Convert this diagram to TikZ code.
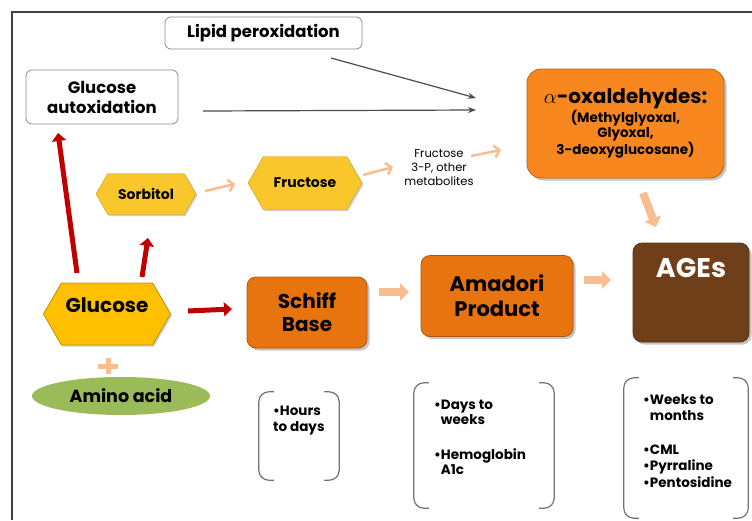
\documentclass[tikz,border=0pt]{standalone}
\usepackage{fontspec}
\setmainfont{Poppins}
\usetikzlibrary{arrows.meta,shapes.symbols,shapes.geometric,shadows,calc}
\definecolor{gold}{HTML}{F9C62C}
\definecolor{goldB}{HTML}{FFC000}
\definecolor{orangeA}{HTML}{F7871E}
\definecolor{orangeS}{HTML}{E8740F}
\definecolor{brownA}{HTML}{6F3F1A}
\definecolor{peach}{HTML}{F9BE8F}
\definecolor{redA}{HTML}{C00000}
\definecolor{greenA}{HTML}{9BBB59}
\newcommand{\fs}[2]{\fontsize{#1}{#2}\selectfont}
\begin{document}
\begin{tikzpicture}[x=1pt,y=-1pt,
  plainbox/.style={draw=black!45, line width=0.8pt, rounded corners=6pt, fill=white, align=center, font=\bfseries\fs{16.5}{20}},
  hexbox/.style={shape=signal, signal to=east and west, signal pointer angle=120, fill=gold, draw=gold!80!black, inner sep=0pt,
     drop shadow={shadow xshift=1.5pt, shadow yshift=-1.5pt, opacity=0.35}},
  colbox/.style={rounded corners=9pt, align=center, inner sep=0pt, line width=0.8pt,
     drop shadow={shadow xshift=2.5pt, shadow yshift=-2.5pt, opacity=0.45}},
  grayarrow/.style={draw=black!70, line width=1.2pt, -{Stealth[length=8pt,width=6pt]}},
  redarrow/.style={draw=redA, line width=5pt, -{Triangle[length=8pt,width=14pt]}},
  peachthin/.style={draw=peach, line width=2.5pt, -{Straight Barb[length=5pt,width=12pt]}},
  peachblock/.style={draw=peach, line width=8pt, -{Triangle[length=9pt,width=17pt]}},
  bracket/.style={draw=black!55, line width=1.2pt, rounded corners=10pt},
  brtext/.style={anchor=north west, align=left, inner sep=0pt, font=\bfseries\fs{13.5}{16}}
]
\useasboundingbox (0,0) rectangle (752,520);
\fill[white] (0,0) rectangle (752,520);
\draw[line width=2pt, black!75] (12,520) -- (12,12) -- (752,12);

% top boxes
\node[plainbox, minimum width=197, minimum height=32] (lipid) at (263.5,33) {Lipid peroxidation};
\node[plainbox, minimum width=152, minimum height=54] (autox) at (102,97) {Glucose\\autoxidation};

% hexagons
\node[hexbox, minimum width=100, minimum height=41, font=\bfseries\fs{14}{16}] (sorb) at (146,194) {Sorbitol};
\node[hexbox, minimum width=114, minimum height=53, font=\bfseries\fs{14}{16}] (fruc) at (305,183) {Fructose};
\node[hexbox, fill=goldB, draw=goldB!75!black, line width=0.8pt, minimum width=127, minimum height=62] (gluc) at (107,314) {};
\node[font=\bfseries\fs{20}{22}] (gluct) at (107,305) {Glucose};

\node[align=center, font=\fs{11.5}{14}] (fmet) at (439,168) {Fructose\\3-P, other\\metabolites};

% coloured boxes
\node[colbox, fill=orangeA, draw=orangeA!75!black, rounded corners=14pt, minimum width=197, minimum height=109] (alpha) at (625.5,123.5)
  {{\bfseries\fs{20}{22}$\alpha$-oxaldehydes:}\\{\bfseries\fs{13.5}{16.5}(Methylglyoxal,}\\{\bfseries\fs{13.5}{16.5}Glyoxal,}\\{\bfseries\fs{13.5}{16.5}3-deoxyglucosane)}};
\node[colbox, fill=brownA, draw=brownA!80!black, minimum width=116, minimum height=99] (ages) at (691,292.5) {};
\node[font=\bfseries\fs{27}{29}, text=white, anchor=north] (agest) at ($(ages.north)+(0,12)$) {AGEs};
\node[colbox, fill=orangeS, draw=orangeS!75!black, minimum width=120, minimum height=71, font=\bfseries\fs{20}{23}] (schiff) at (307,312.5) {Schiff\\Base};
\node[colbox, fill=orangeS, draw=orangeS!75!black, minimum width=152, minimum height=81, font=\bfseries\fs{21}{25}] (amad) at (497,296) {Amadori\\Product};

% amino acid
\node[ellipse, fill=greenA, minimum width=178, minimum height=38, inner sep=0pt, font=\bfseries\fs{17.5}{19}] (amino) at (121,396) {Amino acid};
\coordinate (plus) at (108,366);
\draw[peach, line width=5pt] ($(plus)+(-10,0)$) -- ($(plus)+(10,0)$);
\draw[peach, line width=5pt] ($(plus)+(0,-8)$) -- ($(plus)+(0,8)$);

% gray arrows
\coordinate (g1s) at (331,58); \coordinate (g1e) at (476,98);
\coordinate (g2s) at (203,111); \coordinate (g2e) at (476,110);
\draw[grayarrow] (g1s) -- (g1e);
\draw[grayarrow] (g2s) -- (g2e);

% red arrows
\coordinate (r1s) at (77,273); \coordinate (r1e) at (58,133);
\coordinate (r2s) at (142,277); \coordinate (r2e) at (148,238);
\coordinate (r3s) at (188,311); \coordinate (r3e) at (232,309);
\draw[redarrow] (r1s) -- (r1e);
\draw[redarrow] (r2s) -- (r2e);
\draw[redarrow] (r3s) -- (r3e);

% peach thin arrows
\coordinate (p1s) at (205,191); \coordinate (p1e) at (235,184);
\coordinate (p2s) at (363,175); \coordinate (p2e) at (393,167);
\coordinate (p3s) at (471,156); \coordinate (p3e) at (501,150);
\draw[peachthin] (p1s) -- (p1e);
\draw[peachthin] (p2s) -- (p2e);
\draw[peachthin] (p3s) -- (p3e);

% peach block arrows
\coordinate (b1s) at (379,292); \coordinate (b1e) at (409,292);
\coordinate (b2s) at (584,280); \coordinate (b2e) at (611,280);
\coordinate (b3s) at (643,193); \coordinate (b3e) at (656,227);
\draw[peachblock] (b1s) -- (b1e);
\draw[peachblock] (b2s) -- (b2e);
\draw[peachblock] (b3s) -- (b3e);

% brackets
\node[minimum width=80, minimum height=88, inner sep=0pt] (br1) at (299,436) {};
\node[minimum width=140, minimum height=125, inner sep=0pt] (br2) at (484,445.5) {};
\node[minimum width=124, minimum height=140, inner sep=0pt] (br3) at (686,448) {};
\foreach \b in {br1,br2,br3}{
  \draw[bracket] ($(\b.north west)+(15,0)$) -- (\b.north west) -- (\b.south west) -- ($(\b.south west)+(15,0)$);
  \draw[bracket] ($(\b.north east)+(-15,0)$) -- (\b.north east) -- (\b.south east) -- ($(\b.south east)+(-15,0)$);
}
\node[brtext] (t1) at (273,406) {\textbullet Hours\\to days};
\node[brtext, font=\bfseries\fs{13.5}{15}] (t2) at (434,400) {\textbullet Days to\\\hphantom{\textbullet}weeks\\[20pt]\textbullet Hemoglobin\\\hphantom{\textbullet}A1c};
\node[brtext, font=\bfseries\fs{13.5}{16.5}] (t3) at (643,394) {\textbullet Weeks to\\\hphantom{\textbullet}months\\[17pt]\textbullet CML\\\textbullet Pyrraline\\\textbullet Pentosidine};
\end{tikzpicture}
\end{document}
